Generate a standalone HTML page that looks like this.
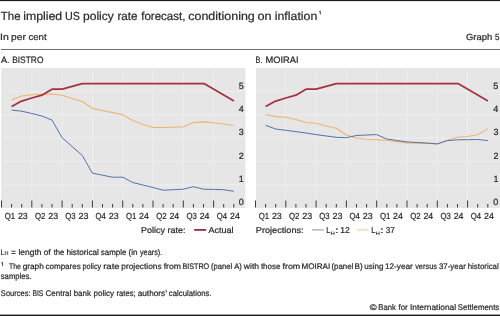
<!DOCTYPE html>
<html><head><meta charset="utf-8"><style>
html,body{margin:0;padding:0;background:#fff;}
body{width:500px;height:316px;overflow:hidden;}
svg{display:block;will-change:transform;}
text{font-family:"Liberation Sans",sans-serif;text-rendering:geometricPrecision;stroke:#2a2a2a;stroke-width:0.22px;}
</style></head><body>
<svg width="500" height="316" viewBox="0 0 500 316">
<rect x="0" y="0" width="500" height="1.1" fill="#1a1a1a"/>
<text x="0.85" y="19.80" font-size="11.7" textLength="19.65" lengthAdjust="spacingAndGlyphs" fill="#2a2a2a" >The</text>
<text x="23.17" y="19.80" font-size="11.7" textLength="39.01" lengthAdjust="spacingAndGlyphs" fill="#2a2a2a" >implied</text>
<text x="64.97" y="19.80" font-size="11.7" textLength="14.92" lengthAdjust="spacingAndGlyphs" fill="#2a2a2a" >US</text>
<text x="83.03" y="19.80" font-size="11.7" textLength="30.79" lengthAdjust="spacingAndGlyphs" fill="#2a2a2a" >policy</text>
<text x="117.43" y="19.80" font-size="11.7" textLength="20.08" lengthAdjust="spacingAndGlyphs" fill="#2a2a2a" >rate</text>
<text x="141.24" y="19.80" font-size="11.7" textLength="44.20" lengthAdjust="spacingAndGlyphs" fill="#2a2a2a" >forecast,</text>
<text x="188.28" y="19.80" font-size="11.7" textLength="66.53" lengthAdjust="spacingAndGlyphs" fill="#2a2a2a" >conditioning</text>
<text x="257.47" y="19.80" font-size="11.7" textLength="14.17" lengthAdjust="spacingAndGlyphs" fill="#2a2a2a" >on</text>
<text x="274.77" y="19.80" font-size="11.7" textLength="42.53" lengthAdjust="spacingAndGlyphs" fill="#2a2a2a" >inflation</text>
<path d="M319.1 11.9 L320.3 11.0 L320.3 14.5" stroke="#2a2a2a" stroke-width="0.85" fill="none"/>
<text x="0.14" y="39.80" font-size="9.2" textLength="8.75" lengthAdjust="spacingAndGlyphs" fill="#2a2a2a" >In</text>
<text x="11.14" y="39.80" font-size="9.2" textLength="14.82" lengthAdjust="spacingAndGlyphs" fill="#2a2a2a" >per</text>
<text x="28.40" y="39.80" font-size="9.2" textLength="18.17" lengthAdjust="spacingAndGlyphs" fill="#2a2a2a" >cent</text>
<text x="465.93" y="39.50" font-size="8.9" textLength="26.29" lengthAdjust="spacingAndGlyphs" fill="#2a2a2a" >Graph</text>
<text x="494.98" y="39.50" font-size="8.9" textLength="4.46" lengthAdjust="spacingAndGlyphs" fill="#2a2a2a" >5</text>
<rect x="1" y="49" width="499" height="1" fill="#6e6e6e"/>
<text x="0.88" y="63.40" font-size="9.3" textLength="8.65" lengthAdjust="spacingAndGlyphs" fill="#2a2a2a" >A.</text>
<text x="12.21" y="63.40" font-size="9.3" textLength="31.19" lengthAdjust="spacingAndGlyphs" fill="#2a2a2a" >BISTRO</text>
<text x="255.49" y="63.40" font-size="9.3" textLength="6.98" lengthAdjust="spacingAndGlyphs" fill="#2a2a2a" >B.</text>
<text x="265.54" y="63.40" font-size="9.3" textLength="33.12" lengthAdjust="spacingAndGlyphs" fill="#2a2a2a" >MOIRAI</text>
<rect x="1.2" y="68" width="244.20000000000002" height="140" fill="#e6e6e6"/>
<line x1="31.80" y1="68" x2="31.80" y2="208" stroke="#eeeeee" stroke-width="1"/>
<line x1="62.10" y1="68" x2="62.10" y2="208" stroke="#eeeeee" stroke-width="1"/>
<line x1="92.40" y1="68" x2="92.40" y2="208" stroke="#eeeeee" stroke-width="1"/>
<line x1="122.70" y1="68" x2="122.70" y2="208" stroke="#eeeeee" stroke-width="1"/>
<line x1="153.00" y1="68" x2="153.00" y2="208" stroke="#eeeeee" stroke-width="1"/>
<line x1="183.30" y1="68" x2="183.30" y2="208" stroke="#eeeeee" stroke-width="1"/>
<line x1="213.60" y1="68" x2="213.60" y2="208" stroke="#eeeeee" stroke-width="1"/>
<line x1="1.2" y1="184.67" x2="245.4" y2="184.67" stroke="#eeeeee" stroke-width="1"/>
<line x1="1.2" y1="161.34" x2="245.4" y2="161.34" stroke="#eeeeee" stroke-width="1"/>
<line x1="1.2" y1="138.01" x2="245.4" y2="138.01" stroke="#eeeeee" stroke-width="1"/>
<line x1="1.2" y1="114.68" x2="245.4" y2="114.68" stroke="#eeeeee" stroke-width="1"/>
<line x1="1.2" y1="91.35" x2="245.4" y2="91.35" stroke="#eeeeee" stroke-width="1"/>
<line x1="1.50" y1="200.5" x2="1.50" y2="207.5" stroke="#383838" stroke-width="1"/>
<line x1="11.60" y1="204" x2="11.60" y2="207.5" stroke="#383838" stroke-width="1"/>
<line x1="21.70" y1="204" x2="21.70" y2="207.5" stroke="#383838" stroke-width="1"/>
<line x1="31.80" y1="200.5" x2="31.80" y2="207.5" stroke="#383838" stroke-width="1"/>
<line x1="41.90" y1="204" x2="41.90" y2="207.5" stroke="#383838" stroke-width="1"/>
<line x1="52.00" y1="204" x2="52.00" y2="207.5" stroke="#383838" stroke-width="1"/>
<line x1="62.10" y1="200.5" x2="62.10" y2="207.5" stroke="#383838" stroke-width="1"/>
<line x1="72.20" y1="204" x2="72.20" y2="207.5" stroke="#383838" stroke-width="1"/>
<line x1="82.30" y1="204" x2="82.30" y2="207.5" stroke="#383838" stroke-width="1"/>
<line x1="92.40" y1="200.5" x2="92.40" y2="207.5" stroke="#383838" stroke-width="1"/>
<line x1="102.50" y1="204" x2="102.50" y2="207.5" stroke="#383838" stroke-width="1"/>
<line x1="112.60" y1="204" x2="112.60" y2="207.5" stroke="#383838" stroke-width="1"/>
<line x1="122.70" y1="200.5" x2="122.70" y2="207.5" stroke="#383838" stroke-width="1"/>
<line x1="132.80" y1="204" x2="132.80" y2="207.5" stroke="#383838" stroke-width="1"/>
<line x1="142.90" y1="204" x2="142.90" y2="207.5" stroke="#383838" stroke-width="1"/>
<line x1="153.00" y1="200.5" x2="153.00" y2="207.5" stroke="#383838" stroke-width="1"/>
<line x1="163.10" y1="204" x2="163.10" y2="207.5" stroke="#383838" stroke-width="1"/>
<line x1="173.20" y1="204" x2="173.20" y2="207.5" stroke="#383838" stroke-width="1"/>
<line x1="183.30" y1="200.5" x2="183.30" y2="207.5" stroke="#383838" stroke-width="1"/>
<line x1="193.40" y1="204" x2="193.40" y2="207.5" stroke="#383838" stroke-width="1"/>
<line x1="203.50" y1="204" x2="203.50" y2="207.5" stroke="#383838" stroke-width="1"/>
<line x1="213.60" y1="200.5" x2="213.60" y2="207.5" stroke="#383838" stroke-width="1"/>
<line x1="223.70" y1="204" x2="223.70" y2="207.5" stroke="#383838" stroke-width="1"/>
<line x1="233.80" y1="204" x2="233.80" y2="207.5" stroke="#383838" stroke-width="1"/>
<text x="238.75" y="205.10" font-size="9.0" textLength="5.01" lengthAdjust="spacingAndGlyphs" fill="#2a2a2a" >0</text>
<text x="238.84" y="181.87" font-size="9.0" textLength="5.01" lengthAdjust="spacingAndGlyphs" fill="#2a2a2a" >1</text>
<text x="238.85" y="158.64" font-size="9.0" textLength="5.01" lengthAdjust="spacingAndGlyphs" fill="#2a2a2a" >2</text>
<text x="238.79" y="135.41" font-size="9.0" textLength="5.01" lengthAdjust="spacingAndGlyphs" fill="#2a2a2a" >3</text>
<text x="238.66" y="112.18" font-size="9.0" textLength="5.01" lengthAdjust="spacingAndGlyphs" fill="#2a2a2a" >4</text>
<text x="238.77" y="88.95" font-size="9.0" textLength="5.01" lengthAdjust="spacingAndGlyphs" fill="#2a2a2a" >5</text>
<text x="4.68" y="218.90" font-size="8.8" textLength="10.45" lengthAdjust="spacingAndGlyphs" fill="#2a2a2a" >Q1</text>
<text x="17.90" y="218.90" font-size="8.8" textLength="9.94" lengthAdjust="spacingAndGlyphs" fill="#2a2a2a" >23</text>
<text x="34.98" y="218.90" font-size="8.8" textLength="10.46" lengthAdjust="spacingAndGlyphs" fill="#2a2a2a" >Q2</text>
<text x="48.20" y="218.90" font-size="8.8" textLength="9.94" lengthAdjust="spacingAndGlyphs" fill="#2a2a2a" >23</text>
<text x="65.28" y="218.90" font-size="8.8" textLength="10.41" lengthAdjust="spacingAndGlyphs" fill="#2a2a2a" >Q3</text>
<text x="78.50" y="218.90" font-size="8.8" textLength="9.94" lengthAdjust="spacingAndGlyphs" fill="#2a2a2a" >23</text>
<text x="95.59" y="218.90" font-size="8.8" textLength="10.29" lengthAdjust="spacingAndGlyphs" fill="#2a2a2a" >Q4</text>
<text x="108.80" y="218.90" font-size="8.8" textLength="9.94" lengthAdjust="spacingAndGlyphs" fill="#2a2a2a" >23</text>
<text x="125.88" y="218.90" font-size="8.8" textLength="10.45" lengthAdjust="spacingAndGlyphs" fill="#2a2a2a" >Q1</text>
<text x="139.11" y="218.90" font-size="8.8" textLength="9.80" lengthAdjust="spacingAndGlyphs" fill="#2a2a2a" >24</text>
<text x="156.18" y="218.90" font-size="8.8" textLength="10.46" lengthAdjust="spacingAndGlyphs" fill="#2a2a2a" >Q2</text>
<text x="169.41" y="218.90" font-size="8.8" textLength="9.80" lengthAdjust="spacingAndGlyphs" fill="#2a2a2a" >24</text>
<text x="186.48" y="218.90" font-size="8.8" textLength="10.41" lengthAdjust="spacingAndGlyphs" fill="#2a2a2a" >Q3</text>
<text x="199.71" y="218.90" font-size="8.8" textLength="9.80" lengthAdjust="spacingAndGlyphs" fill="#2a2a2a" >24</text>
<text x="216.79" y="218.90" font-size="8.8" textLength="10.29" lengthAdjust="spacingAndGlyphs" fill="#2a2a2a" >Q4</text>
<text x="230.01" y="218.90" font-size="8.8" textLength="9.80" lengthAdjust="spacingAndGlyphs" fill="#2a2a2a" >24</text>
<polyline points="11.60,100.00 21.70,96.00 31.80,94.70 41.90,94.30 52.00,94.10 62.10,95.20 72.20,98.40 82.30,101.50 92.40,108.40 102.50,110.50 112.60,112.60 122.70,114.80 132.80,120.50 142.90,124.50 153.00,127.50 163.10,127.50 173.20,127.20 183.30,126.80 193.40,122.60 203.50,121.90 213.60,122.80 223.70,124.00 233.80,125.50" fill="none" stroke="#ebb66c" stroke-width="1.1" stroke-linejoin="round"/>
<polyline points="11.60,110.10 21.70,111.20 31.80,113.50 41.90,116.00 52.00,120.10 62.10,137.70 72.20,146.60 82.30,155.50 92.40,173.10 102.50,175.20 112.60,177.20 122.70,177.20 132.80,182.50 142.90,185.00 153.00,187.50 163.10,190.20 173.20,189.70 183.30,189.20 193.40,186.70 203.50,189.20 213.60,189.40 223.70,189.70 233.80,191.30" fill="none" stroke="#5273ab" stroke-width="1.0" stroke-linejoin="round"/>
<polyline points="11.60,106.50 21.70,101.10 31.80,98.00 41.90,95.20 52.00,89.20 62.10,89.20 82.30,83.60 204.00,83.60 234.00,101.00" fill="none" stroke="#a5313d" stroke-width="1.75" stroke-linejoin="round"/>
<rect x="255.9" y="68" width="244.1" height="140" fill="#e6e6e6"/>
<line x1="285.80" y1="68" x2="285.80" y2="208" stroke="#eeeeee" stroke-width="1"/>
<line x1="316.10" y1="68" x2="316.10" y2="208" stroke="#eeeeee" stroke-width="1"/>
<line x1="346.40" y1="68" x2="346.40" y2="208" stroke="#eeeeee" stroke-width="1"/>
<line x1="376.70" y1="68" x2="376.70" y2="208" stroke="#eeeeee" stroke-width="1"/>
<line x1="407.00" y1="68" x2="407.00" y2="208" stroke="#eeeeee" stroke-width="1"/>
<line x1="437.30" y1="68" x2="437.30" y2="208" stroke="#eeeeee" stroke-width="1"/>
<line x1="467.60" y1="68" x2="467.60" y2="208" stroke="#eeeeee" stroke-width="1"/>
<line x1="255.9" y1="184.67" x2="500" y2="184.67" stroke="#eeeeee" stroke-width="1"/>
<line x1="255.9" y1="161.34" x2="500" y2="161.34" stroke="#eeeeee" stroke-width="1"/>
<line x1="255.9" y1="138.01" x2="500" y2="138.01" stroke="#eeeeee" stroke-width="1"/>
<line x1="255.9" y1="114.68" x2="500" y2="114.68" stroke="#eeeeee" stroke-width="1"/>
<line x1="255.9" y1="91.35" x2="500" y2="91.35" stroke="#eeeeee" stroke-width="1"/>
<line x1="255.50" y1="200.5" x2="255.50" y2="207.5" stroke="#383838" stroke-width="1"/>
<line x1="265.60" y1="204" x2="265.60" y2="207.5" stroke="#383838" stroke-width="1"/>
<line x1="275.70" y1="204" x2="275.70" y2="207.5" stroke="#383838" stroke-width="1"/>
<line x1="285.80" y1="200.5" x2="285.80" y2="207.5" stroke="#383838" stroke-width="1"/>
<line x1="295.90" y1="204" x2="295.90" y2="207.5" stroke="#383838" stroke-width="1"/>
<line x1="306.00" y1="204" x2="306.00" y2="207.5" stroke="#383838" stroke-width="1"/>
<line x1="316.10" y1="200.5" x2="316.10" y2="207.5" stroke="#383838" stroke-width="1"/>
<line x1="326.20" y1="204" x2="326.20" y2="207.5" stroke="#383838" stroke-width="1"/>
<line x1="336.30" y1="204" x2="336.30" y2="207.5" stroke="#383838" stroke-width="1"/>
<line x1="346.40" y1="200.5" x2="346.40" y2="207.5" stroke="#383838" stroke-width="1"/>
<line x1="356.50" y1="204" x2="356.50" y2="207.5" stroke="#383838" stroke-width="1"/>
<line x1="366.60" y1="204" x2="366.60" y2="207.5" stroke="#383838" stroke-width="1"/>
<line x1="376.70" y1="200.5" x2="376.70" y2="207.5" stroke="#383838" stroke-width="1"/>
<line x1="386.80" y1="204" x2="386.80" y2="207.5" stroke="#383838" stroke-width="1"/>
<line x1="396.90" y1="204" x2="396.90" y2="207.5" stroke="#383838" stroke-width="1"/>
<line x1="407.00" y1="200.5" x2="407.00" y2="207.5" stroke="#383838" stroke-width="1"/>
<line x1="417.10" y1="204" x2="417.10" y2="207.5" stroke="#383838" stroke-width="1"/>
<line x1="427.20" y1="204" x2="427.20" y2="207.5" stroke="#383838" stroke-width="1"/>
<line x1="437.30" y1="200.5" x2="437.30" y2="207.5" stroke="#383838" stroke-width="1"/>
<line x1="447.40" y1="204" x2="447.40" y2="207.5" stroke="#383838" stroke-width="1"/>
<line x1="457.50" y1="204" x2="457.50" y2="207.5" stroke="#383838" stroke-width="1"/>
<line x1="467.60" y1="200.5" x2="467.60" y2="207.5" stroke="#383838" stroke-width="1"/>
<line x1="477.70" y1="204" x2="477.70" y2="207.5" stroke="#383838" stroke-width="1"/>
<line x1="487.80" y1="204" x2="487.80" y2="207.5" stroke="#383838" stroke-width="1"/>
<text x="493.35" y="205.10" font-size="9.0" textLength="5.01" lengthAdjust="spacingAndGlyphs" fill="#2a2a2a" >0</text>
<text x="493.44" y="181.87" font-size="9.0" textLength="5.01" lengthAdjust="spacingAndGlyphs" fill="#2a2a2a" >1</text>
<text x="493.45" y="158.64" font-size="9.0" textLength="5.01" lengthAdjust="spacingAndGlyphs" fill="#2a2a2a" >2</text>
<text x="493.39" y="135.41" font-size="9.0" textLength="5.01" lengthAdjust="spacingAndGlyphs" fill="#2a2a2a" >3</text>
<text x="493.26" y="112.18" font-size="9.0" textLength="5.01" lengthAdjust="spacingAndGlyphs" fill="#2a2a2a" >4</text>
<text x="493.37" y="88.95" font-size="9.0" textLength="5.01" lengthAdjust="spacingAndGlyphs" fill="#2a2a2a" >5</text>
<text x="258.68" y="218.90" font-size="8.8" textLength="10.45" lengthAdjust="spacingAndGlyphs" fill="#2a2a2a" >Q1</text>
<text x="271.90" y="218.90" font-size="8.8" textLength="9.94" lengthAdjust="spacingAndGlyphs" fill="#2a2a2a" >23</text>
<text x="288.98" y="218.90" font-size="8.8" textLength="10.46" lengthAdjust="spacingAndGlyphs" fill="#2a2a2a" >Q2</text>
<text x="302.20" y="218.90" font-size="8.8" textLength="9.94" lengthAdjust="spacingAndGlyphs" fill="#2a2a2a" >23</text>
<text x="319.28" y="218.90" font-size="8.8" textLength="10.41" lengthAdjust="spacingAndGlyphs" fill="#2a2a2a" >Q3</text>
<text x="332.50" y="218.90" font-size="8.8" textLength="9.94" lengthAdjust="spacingAndGlyphs" fill="#2a2a2a" >23</text>
<text x="349.59" y="218.90" font-size="8.8" textLength="10.29" lengthAdjust="spacingAndGlyphs" fill="#2a2a2a" >Q4</text>
<text x="362.80" y="218.90" font-size="8.8" textLength="9.94" lengthAdjust="spacingAndGlyphs" fill="#2a2a2a" >23</text>
<text x="379.88" y="218.90" font-size="8.8" textLength="10.45" lengthAdjust="spacingAndGlyphs" fill="#2a2a2a" >Q1</text>
<text x="393.11" y="218.90" font-size="8.8" textLength="9.80" lengthAdjust="spacingAndGlyphs" fill="#2a2a2a" >24</text>
<text x="410.18" y="218.90" font-size="8.8" textLength="10.46" lengthAdjust="spacingAndGlyphs" fill="#2a2a2a" >Q2</text>
<text x="423.41" y="218.90" font-size="8.8" textLength="9.80" lengthAdjust="spacingAndGlyphs" fill="#2a2a2a" >24</text>
<text x="440.48" y="218.90" font-size="8.8" textLength="10.41" lengthAdjust="spacingAndGlyphs" fill="#2a2a2a" >Q3</text>
<text x="453.71" y="218.90" font-size="8.8" textLength="9.80" lengthAdjust="spacingAndGlyphs" fill="#2a2a2a" >24</text>
<text x="470.79" y="218.90" font-size="8.8" textLength="10.29" lengthAdjust="spacingAndGlyphs" fill="#2a2a2a" >Q4</text>
<text x="484.01" y="218.90" font-size="8.8" textLength="9.80" lengthAdjust="spacingAndGlyphs" fill="#2a2a2a" >24</text>
<polyline points="265.60,114.50 275.70,116.60 285.80,117.30 295.90,119.50 306.00,122.50 316.10,123.20 326.20,126.00 336.30,128.20 346.40,135.00 356.50,138.00 366.60,139.20 376.70,139.60 386.80,140.20 396.90,141.60 407.00,142.90 417.10,143.10 427.20,143.40 437.30,143.90 447.40,140.20 457.50,137.20 467.60,136.50 477.70,134.80 487.80,128.60" fill="none" stroke="#ebb66c" stroke-width="1.1" stroke-linejoin="round"/>
<polyline points="265.60,125.30 275.70,129.00 285.80,130.30 295.90,131.60 306.00,133.00 316.10,134.60 326.20,136.00 336.30,137.30 346.40,137.70 356.50,135.50 366.60,135.00 376.70,134.60 386.80,139.00 396.90,140.50 407.00,141.90 417.10,142.50 427.20,143.10 437.30,143.90 447.40,140.60 457.50,139.80 467.60,139.70 477.70,139.50 487.80,140.50" fill="none" stroke="#5273ab" stroke-width="1.0" stroke-linejoin="round"/>
<polyline points="265.60,106.50 275.70,101.10 285.80,98.00 295.90,95.20 306.00,89.20 316.10,89.20 336.30,83.60 458.00,83.60 488.00,101.00" fill="none" stroke="#a5313d" stroke-width="1.75" stroke-linejoin="round"/>
<text x="141.06" y="233.20" font-size="8.5" textLength="44.46" lengthAdjust="spacingAndGlyphs" fill="#2a2a2a" >Policy rate:</text>
<line x1="194.2" y1="229.9" x2="206.2" y2="229.9" stroke="#8f3040" stroke-width="1.8"/>
<text x="208.58" y="233.20" font-size="8.5" textLength="25.02" lengthAdjust="spacingAndGlyphs" fill="#2a2a2a" >Actual</text>
<text x="255.85" y="233.20" font-size="8.5" textLength="47.78" lengthAdjust="spacingAndGlyphs" fill="#2a2a2a" >Projections:</text>
<line x1="312" y1="229.9" x2="323.8" y2="229.9" stroke="#5273ab" stroke-width="1" stroke-opacity="0.75"/>
<text x="326.29" y="233.20" font-size="8.5" textLength="4.16" lengthAdjust="spacingAndGlyphs" fill="#2a2a2a" >L</text>
<text x="330.50" y="234.90" font-size="5.0" textLength="4.39" lengthAdjust="spacingAndGlyphs" fill="#2a2a2a" style="stroke-width:0.08px">H</text>
<text x="334.67" y="233.20" font-size="8.5" textLength="4.05" lengthAdjust="spacingAndGlyphs" fill="#2a2a2a" >:</text>
<text x="340.35" y="233.20" font-size="8.5" textLength="9.48" lengthAdjust="spacingAndGlyphs" fill="#2a2a2a" >12</text>
<line x1="357" y1="229.9" x2="368.8" y2="229.9" stroke="#ebb66c" stroke-width="1" stroke-opacity="0.75"/>
<text x="371.29" y="233.20" font-size="8.5" textLength="4.16" lengthAdjust="spacingAndGlyphs" fill="#2a2a2a" >L</text>
<text x="375.50" y="234.90" font-size="5.0" textLength="4.39" lengthAdjust="spacingAndGlyphs" fill="#2a2a2a" style="stroke-width:0.08px">H</text>
<text x="379.67" y="233.20" font-size="8.5" textLength="4.05" lengthAdjust="spacingAndGlyphs" fill="#2a2a2a" >:</text>
<text x="385.69" y="233.20" font-size="8.5" textLength="9.12" lengthAdjust="spacingAndGlyphs" fill="#2a2a2a" >37</text>
<text x="0.52" y="254.70" font-size="8" textLength="3.91" lengthAdjust="spacingAndGlyphs" fill="#2a2a2a" >L</text>
<text x="4.45" y="254.70" font-size="5.6" textLength="4.00" lengthAdjust="spacingAndGlyphs" fill="#2a2a2a" style="stroke-width:0.1px">H</text>
<text x="11.22" y="254.60" font-size="8.2" textLength="4.57" lengthAdjust="spacingAndGlyphs" fill="#2a2a2a" >=</text>
<text x="18.43" y="254.60" font-size="8.2" textLength="23.13" lengthAdjust="spacingAndGlyphs" fill="#2a2a2a" >length</text>
<text x="43.65" y="254.60" font-size="8.2" textLength="6.94" lengthAdjust="spacingAndGlyphs" fill="#2a2a2a" >of</text>
<text x="53.69" y="254.60" font-size="8.2" textLength="10.65" lengthAdjust="spacingAndGlyphs" fill="#2a2a2a" >the</text>
<text x="66.43" y="254.60" font-size="8.2" textLength="32.52" lengthAdjust="spacingAndGlyphs" fill="#2a2a2a" >historical</text>
<text x="100.78" y="254.60" font-size="8.2" textLength="25.57" lengthAdjust="spacingAndGlyphs" fill="#2a2a2a" >sample</text>
<text x="128.50" y="254.60" font-size="8.2" textLength="9.04" lengthAdjust="spacingAndGlyphs" fill="#2a2a2a" >(in</text>
<text x="139.98" y="254.60" font-size="8.2" textLength="22.29" lengthAdjust="spacingAndGlyphs" fill="#2a2a2a" >years).</text>
<path d="M1.3 263.0 L2.5 262.1 L2.5 265.9" stroke="#2a2a2a" stroke-width="0.85" fill="none"/>
<text x="9.05" y="268.60" font-size="8.1" textLength="11.75" lengthAdjust="spacingAndGlyphs" fill="#2a2a2a" >The</text>
<text x="22.65" y="268.60" font-size="8.1" textLength="21.19" lengthAdjust="spacingAndGlyphs" fill="#2a2a2a" >graph</text>
<text x="45.46" y="268.60" font-size="8.1" textLength="35.32" lengthAdjust="spacingAndGlyphs" fill="#2a2a2a" >compares</text>
<text x="82.53" y="268.60" font-size="8.1" textLength="18.78" lengthAdjust="spacingAndGlyphs" fill="#2a2a2a" >policy</text>
<text x="103.17" y="268.60" font-size="8.1" textLength="16.56" lengthAdjust="spacingAndGlyphs" fill="#2a2a2a" >rate</text>
<text x="121.27" y="268.60" font-size="8.1" textLength="40.33" lengthAdjust="spacingAndGlyphs" fill="#2a2a2a" >projections</text>
<text x="163.68" y="268.60" font-size="8.1" textLength="17.40" lengthAdjust="spacingAndGlyphs" fill="#2a2a2a" >from</text>
<text x="182.41" y="268.60" font-size="8.1" textLength="26.83" lengthAdjust="spacingAndGlyphs" fill="#2a2a2a" >BISTRO</text>
<text x="210.93" y="268.60" font-size="8.1" textLength="21.29" lengthAdjust="spacingAndGlyphs" fill="#2a2a2a" >(panel</text>
<text x="234.18" y="268.60" font-size="8.1" textLength="7.59" lengthAdjust="spacingAndGlyphs" fill="#2a2a2a" >A)</text>
<text x="243.81" y="268.60" font-size="8.1" textLength="15.25" lengthAdjust="spacingAndGlyphs" fill="#2a2a2a" >with</text>
<text x="260.88" y="268.60" font-size="8.1" textLength="19.57" lengthAdjust="spacingAndGlyphs" fill="#2a2a2a" >those</text>
<text x="282.48" y="268.60" font-size="8.1" textLength="17.71" lengthAdjust="spacingAndGlyphs" fill="#2a2a2a" >from</text>
<text x="301.44" y="268.60" font-size="8.1" textLength="28.70" lengthAdjust="spacingAndGlyphs" fill="#2a2a2a" >MOIRAI</text>
<text x="331.41" y="268.60" font-size="8.1" textLength="21.92" lengthAdjust="spacingAndGlyphs" fill="#2a2a2a" >(panel</text>
<text x="354.63" y="268.60" font-size="8.1" textLength="8.18" lengthAdjust="spacingAndGlyphs" fill="#2a2a2a" >B)</text>
<text x="364.27" y="268.60" font-size="8.1" textLength="19.35" lengthAdjust="spacingAndGlyphs" fill="#2a2a2a" >using</text>
<text x="384.98" y="268.60" font-size="8.1" textLength="27.85" lengthAdjust="spacingAndGlyphs" fill="#2a2a2a" >12-year</text>
<text x="415.18" y="268.60" font-size="8.1" textLength="21.79" lengthAdjust="spacingAndGlyphs" fill="#2a2a2a" >versus</text>
<text x="438.90" y="268.60" font-size="8.1" textLength="26.93" lengthAdjust="spacingAndGlyphs" fill="#2a2a2a" >37-year</text>
<text x="467.66" y="268.60" font-size="8.1" textLength="31.07" lengthAdjust="spacingAndGlyphs" fill="#2a2a2a" >historical</text>
<text x="0.79" y="278.80" font-size="8.3" textLength="30.71" lengthAdjust="spacingAndGlyphs" fill="#2a2a2a" >samples.</text>
<text x="0.86" y="296.20" font-size="8.2" textLength="29.83" lengthAdjust="spacingAndGlyphs" fill="#2a2a2a" >Sources:</text>
<text x="32.45" y="296.20" font-size="8.2" textLength="10.86" lengthAdjust="spacingAndGlyphs" fill="#2a2a2a" >BIS</text>
<text x="45.59" y="296.20" font-size="8.2" textLength="25.75" lengthAdjust="spacingAndGlyphs" fill="#2a2a2a" >Central</text>
<text x="73.69" y="296.20" font-size="8.2" textLength="17.31" lengthAdjust="spacingAndGlyphs" fill="#2a2a2a" >bank</text>
<text x="93.49" y="296.20" font-size="8.2" textLength="20.53" lengthAdjust="spacingAndGlyphs" fill="#2a2a2a" >policy</text>
<text x="116.49" y="296.20" font-size="8.2" textLength="19.20" lengthAdjust="spacingAndGlyphs" fill="#2a2a2a" >rates;</text>
<text x="137.65" y="296.20" font-size="8.2" textLength="29.47" lengthAdjust="spacingAndGlyphs" fill="#2a2a2a" >authors’</text>
<text x="168.87" y="296.20" font-size="8.2" textLength="42.73" lengthAdjust="spacingAndGlyphs" fill="#2a2a2a" >calculations.</text>
<text x="369.66" y="309.60" font-size="8.2" textLength="6.89" lengthAdjust="spacingAndGlyphs" fill="#2a2a2a" >©</text>
<text x="378.37" y="309.60" font-size="8.2" textLength="17.63" lengthAdjust="spacingAndGlyphs" fill="#2a2a2a" >Bank</text>
<text x="398.49" y="309.60" font-size="8.2" textLength="9.13" lengthAdjust="spacingAndGlyphs" fill="#2a2a2a" >for</text>
<text x="410.03" y="309.60" font-size="8.2" textLength="46.13" lengthAdjust="spacingAndGlyphs" fill="#2a2a2a" >International</text>
<text x="457.85" y="309.60" font-size="8.2" textLength="41.44" lengthAdjust="spacingAndGlyphs" fill="#2a2a2a" >Settlements</text>
<rect x="0" y="314.6" width="500" height="1.4" fill="#1a1a1a"/>
</svg>
</body></html>
